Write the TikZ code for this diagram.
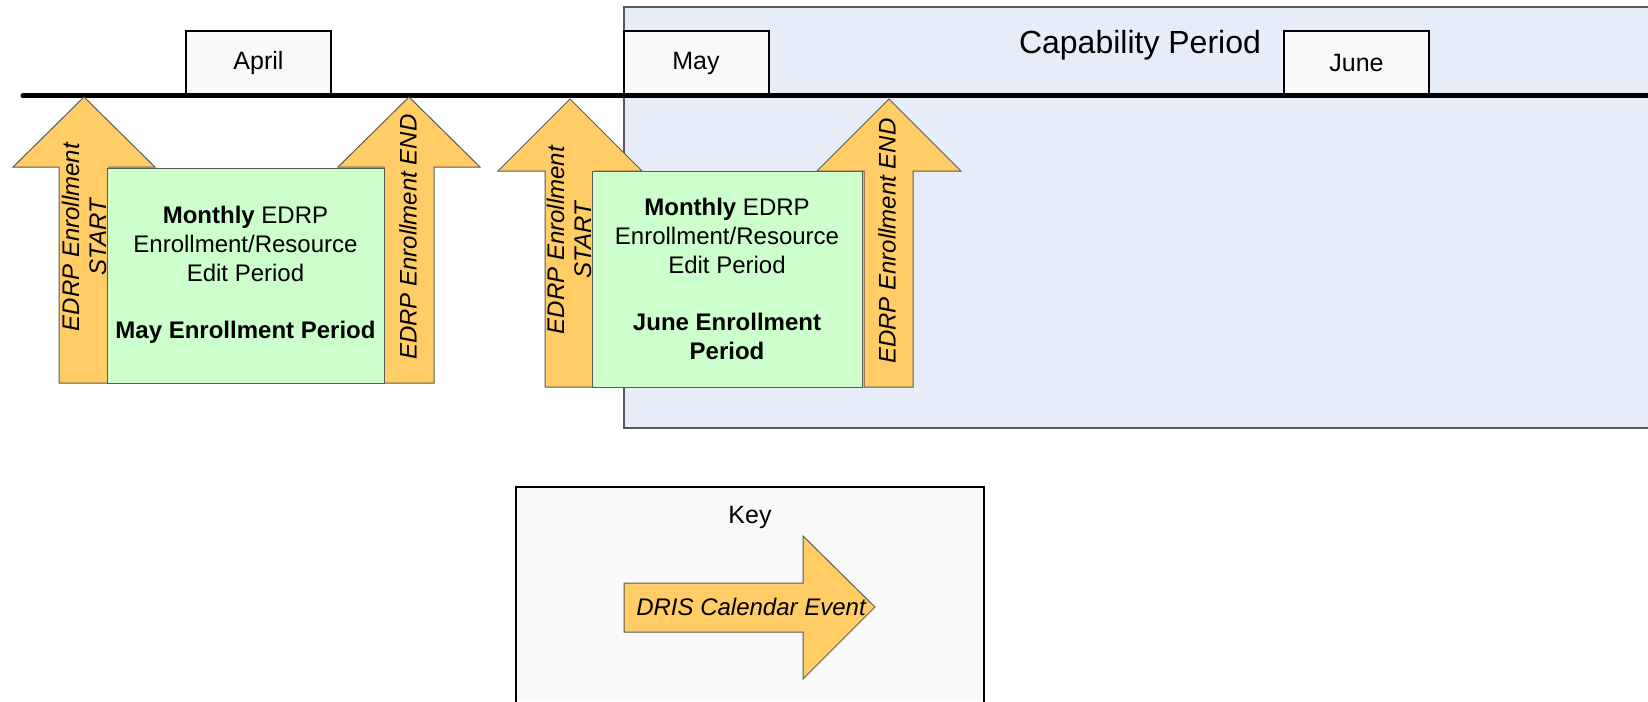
\documentclass[tikz,border=0pt]{standalone}
\usepackage{fontspec}
\setmainfont{Liberation Sans}
\definecolor{evtorange}{RGB}{255,204,102}
\definecolor{periodgreen}{RGB}{204,255,204}
\definecolor{capblue}{RGB}{231,237,248}
\definecolor{boxwhite}{RGB}{249,249,249}
\definecolor{edgegray}{RGB}{90,90,90}
\tikzset{
  evtarrow/.style={fill=evtorange,draw=edgegray,line width=0.5pt,line join=miter},
  evtlabel/.style={rotate=90,align=center,inner sep=0pt,font=\fontsize{12}{13.5}\selectfont\itshape},
  periodbox/.style={fill=periodgreen,draw=edgegray,line width=0.5pt},
  periodtext/.style={align=center,inner sep=0pt,font=\fontsize{12}{14.4}\selectfont},
  monthbox/.style={fill=boxwhite,draw=black,line width=1pt,minimum width=72.5pt,minimum height=32pt,inner sep=0pt,font=\fontsize{12.5}{15}\selectfont},
}
\begin{document}
\begin{tikzpicture}[x=0.5pt,y=-0.5pt]
\useasboundingbox (0,0) rectangle (1648,701);
\fill[white] (0,0) rectangle (1648,701);
% capability period
\fill[capblue] (624,7) rectangle (1648,428);
\draw[edgegray,line width=0.6pt] (1648,7) -- (624,7) -- (624,428) -- (1648,428);
\node[inner sep=0pt,font=\fontsize{16}{19}\selectfont] (cap) at (1140,45) {Capability Period};
% month boxes
\node[monthbox] (april) at (258.5,63) {April};
\node[monthbox] (may) at (696,63) {May};
\node[monthbox] (june) at (1356.5,63) {June};
% timeline
\coordinate (tl0) at (23,96);
\coordinate (tl1) at (1648,96);
\draw[line width=2.5pt,line cap=round] (tl0) -- (tl1);
% arrows, first group
\draw[evtarrow] (84,97) -- (155,167) -- (109,167) -- (109,383) -- (59,383) -- (59,167) -- (13,167) -- cycle;
\node[evtlabel] (start1) at (84,237) {EDRP Enrollment\\START};
\draw[evtarrow] (409,97) -- (480,167) -- (434,167) -- (434,383) -- (384,383) -- (384,167) -- (338,167) -- cycle;
\node[evtlabel] (end1) at (408,237) {EDRP Enrollment END};
\draw[periodbox] (107,168) rectangle (384,383);
\node[periodtext] (p1) at (245.5,275) {\textbf{Monthly} EDRP\\Enrollment/Resource\\Edit Period\\[14.4pt]\textbf{May Enrollment Period}};
% arrows, second group
\draw[evtarrow] (570,99) -- (642,171) -- (595,171) -- (595,387) -- (545,387) -- (545,171) -- (498,171) -- cycle;
\node[evtlabel] (start2) at (569,240) {EDRP Enrollment\\START};
\draw[evtarrow] (889,99) -- (961,171) -- (913,171) -- (913,387) -- (864,387) -- (864,171) -- (817,171) -- cycle;
\node[evtlabel] (end2) at (887,241) {EDRP Enrollment END};
\draw[periodbox] (592,171) rectangle (862,387);
\node[periodtext] (p2) at (727,279) {\textbf{Monthly} EDRP\\Enrollment/Resource\\Edit Period\\[14.4pt]\textbf{June Enrollment}\\\textbf{Period}};
% key
\fill[boxwhite] (516,487) rectangle (984,701);
\draw[black,line width=1.2pt] (516,702) -- (516,487) -- (984,487) -- (984,702);
\node[inner sep=0pt,font=\fontsize{12.5}{15}\selectfont] (key) at (750,517) {Key};
\draw[evtarrow] (624,583) -- (803,583) -- (803,536) -- (875,607) -- (803,679) -- (803,632) -- (624,632) -- cycle;
\node[inner sep=0pt,font=\fontsize{12}{14}\selectfont\itshape] (keylabel) at (751,607) {DRIS Calendar Event};
\end{tikzpicture}
\end{document}
